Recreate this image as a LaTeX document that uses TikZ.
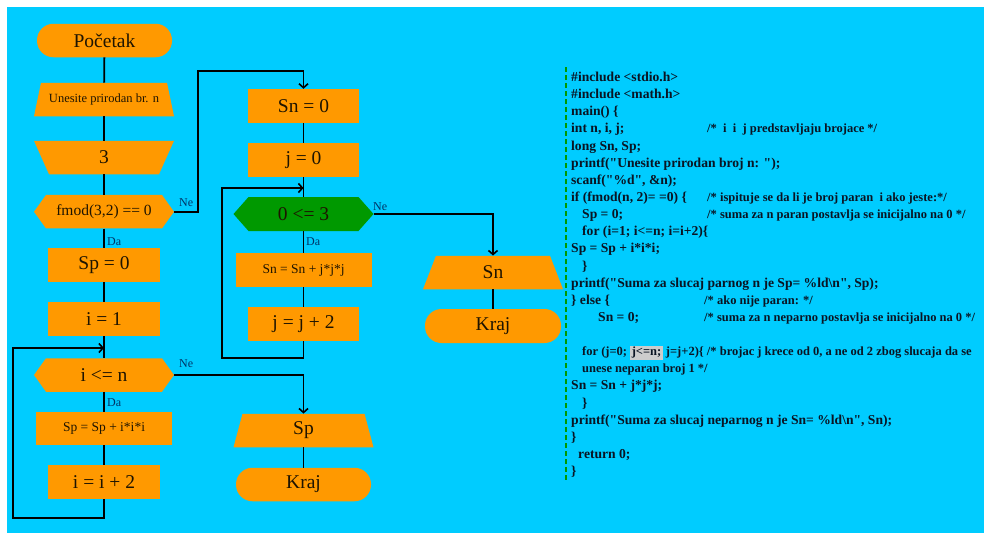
\documentclass[tikz,border=0pt]{standalone}
\usepackage{fontspec}
\setmainfont{Liberation Serif}
% listing font without TeX ligature mapping, so " stays a straight quote
\newfontfamily\codefont{Liberation Serif}
\usetikzlibrary{arrows.meta}
\definecolor{sky}{RGB}{0,204,255}
\definecolor{org}{RGB}{255,153,0}
\definecolor{grn}{RGB}{0,153,0}
\definecolor{ink}{RGB}{30,20,0}
\definecolor{lbl}{RGB}{0,51,102}
\definecolor{codeink}{RGB}{10,20,35}
\definecolor{hl}{RGB}{205,205,205}
\begin{document}
\begin{tikzpicture}[x=1pt,y=-1pt,
  box/.style={inner sep=0pt, minimum height=33.5pt, text=ink, font=\fontsize{19.5}{22}\selectfont},
  proc/.style={box, fill=org},
  term/.style={box, fill=org, rounded corners=16.5pt},
  hexa/.style 2 args={box, path picture={
    \fill[#1] (path picture bounding box.west)
      -- ([xshift=#2pt]path picture bounding box.north west)
      -- ([xshift=-#2pt]path picture bounding box.north east)
      -- (path picture bounding box.east)
      -- ([xshift=-#2pt]path picture bounding box.south east)
      -- ([xshift=#2pt]path picture bounding box.south west) -- cycle;}},
  trap/.style 2 args={box, path picture={
    \fill[org] ([xshift=#1pt]path picture bounding box.north west)
      -- ([xshift=-#1pt]path picture bounding box.north east)
      -- ([xshift=-#2pt]path picture bounding box.south east)
      -- ([xshift=#2pt]path picture bounding box.south west) -- cycle;}},
  link/.style={line width=1.8pt, black},
  arr/.style={link, -{Straight Barb[length=4pt,width=9pt,line width=1.6pt]}},
  tag/.style={text=lbl, inner sep=0pt, anchor=west, font=\fontsize{12}{14}\selectfont},
  code/.style={text=codeink, inner sep=0pt, anchor=base west, font=\codefont\fontsize{13.6}{16}\selectfont\bfseries},
  note/.style={code, font=\codefont\fontsize{12.5}{15}\selectfont\bfseries}
]
% canvas
\fill[white] (0,0) rectangle (984,533);
\fill[sky] (7,7) rectangle (984,533);
\useasboundingbox (0,0) rectangle (984,533);

% left column: even branch
\node[term, minimum width=135pt] (start) at (104.5,40.5) {Početak};
\node[trap={7}{0}, minimum width=140pt, font=\fontsize{12.5}{14}\selectfont] (in1) at (104,99.5) {Unesite prirodan br. n};
\node[trap={0}{15}, minimum width=140pt] (in3) at (104,157.5) {3};
\node[hexa={org}{12}, minimum width=140pt, font=\fontsize{15.5}{18}\selectfont] (if1) at (104,211.7) {fmod(3,2) == 0};
\node[proc, minimum width=112pt, minimum height=34pt] (sp0) at (104,265) {Sp = 0};
\node[proc, minimum width=112pt, minimum height=34pt] (i1) at (104,319) {i = 1};
\node[hexa={org}{12}, minimum width=140pt] (if2) at (104,375) {i <= n};
\node[proc, minimum width=136pt, font=\fontsize{13.5}{16}\selectfont] (spadd) at (104,428.5) {Sp = Sp + i*i*i};
\node[proc, minimum width=112pt, minimum height=34pt] (i2) at (104,482) {i = i + 2};

% middle column: odd branch and even output
\node[proc, minimum width=111pt, minimum height=34pt] (sn0) at (303.5,106) {Sn = 0};
\node[proc, minimum width=111pt, minimum height=34pt] (j0) at (303.5,160) {j = 0};
\node[hexa={grn}{15}, minimum width=140pt, minimum height=34pt] (if3) at (303.5,214) {0 <= 3};
\node[proc, minimum width=136pt, minimum height=34pt, font=\fontsize{13.5}{16}\selectfont] (snadd) at (303.5,270) {Sn = Sn + j*j*j};
\node[proc, minimum width=111pt, minimum height=34pt] (j2) at (303.5,324) {j = j + 2};
\node[trap={9}{0}, minimum width=140pt] (spout) at (303.5,430.5) {Sp};
\node[term, minimum width=135pt] (end1) at (303.5,484.5) {Kraj};

% right column: odd output
\node[trap={13}{0}, minimum width=140pt] (snout) at (493,272.5) {Sn};
\node[term, minimum width=136pt, minimum height=34pt] (end2) at (493,326) {Kraj};

% loop entry points and bends
\coordinate (iin) at (104,348);
\coordinate (jin) at (303.5,188);
\coordinate (ne1) at (198,71);

% straight flow
\draw[link] (start) -- (in1);
\draw[link] (in1) -- (in3);
\draw[link] (in3) -- (if1);
\draw[link] (if1) -- (sp0);
\draw[link] (sp0) -- (i1);
\draw[link] (i1) -- (if2);
\draw[link] (if2) -- (spadd);
\draw[link] (spadd) -- (i2);
\draw[link] (sn0) -- (j0);
\draw[link] (j0) -- (if3);
\draw[link] (if3) -- (snadd);
\draw[link] (snadd) -- (j2);
\draw[link] (spout) -- (end1);
\draw[link] (snout) -- (end2);

% branches
\draw[arr] (if1.east) -| (ne1) -| (sn0.north);
\draw[arr] (if2.east) -| (spout.north);
\draw[arr] (if3.east) -| (snout.north);

% loops
\draw[arr] (i2.south) -- (104,518) -- (13,518) -- (13,348) -- (iin);
\draw[arr] (j2.south) -- (303.5,358) -- (222,358) -- (222,188) -- (jin);

% branch labels
\node[tag] (da1) at (107,242) {Da};
\node[tag] (ne1t) at (179,203) {Ne};
\node[tag] (da2) at (107,403) {Da};
\node[tag] (ne2t) at (179,364) {Ne};
\node[tag] (da3) at (306,242) {Da};
\node[tag] (ne3t) at (373,207) {Ne};

% separator
\draw[grn, line width=2.5pt, dash pattern=on 5pt off 3pt] (566,67) -- (566,482);

% source listing
\def\ly#1{\fpeval{81.6+17.13*#1}}
\node[code] (c0) at (571,\ly{0}) {\#include <stdio.h>};
\node[code] (c1) at (571,\ly{1}) {\#include <math.h>};
\node[code] (c2) at (571,\ly{2}) {main() \{};
\node[code] (c3) at (571,\ly{3}) {int n, i, j;};
\node[note] (m3) at (707,\ly{3}) {/*\ \ i\ \ i\ \ j predstavljaju brojace */};
\node[code] (c4) at (571,\ly{4}) {long Sn, Sp;};
\node[code] (c5) at (571,\ly{5}) {printf("Unesite prirodan broj n: ");};
\node[code] (c6) at (571,\ly{6}) {scanf("\%d", \&n);};
\node[code] (c7) at (571,\ly{7}) {if (fmod(n, 2)= =0) \{};
\node[note] (m7) at (707,\ly{7}) {/* ispituje se da li je broj paran\ \ i ako jeste:*/};
\node[code] (c8) at (582,\ly{8}) {Sp = 0;};
\node[note] (m8) at (707,\ly{8}) {/* suma za n paran postavlja se inicijalno na 0 */};
\node[code] (c9) at (582,\ly{9}) {for (i=1; i<=n; i=i+2)\{};
\node[code] (c10) at (571,\ly{10}) {Sp = Sp + i*i*i;};
\node[code] (c11) at (582,\ly{11}) {\}};
\node[code] (c12) at (571,\ly{12}) {printf("Suma za slucaj parnog n je Sp= \%ld\textbackslash n", Sp);};
\node[code] (c13) at (571,\ly{13}) {\} else \{};
\node[note] (m13) at (704,\ly{13}) {/* ako nije paran: */};
\node[code] (c14) at (598,\ly{14}) {Sn = 0;};
\node[note] (m14) at (704,\ly{14}) {/* suma za n neparno postavlja se inicijalno na 0 */};
\node[note] (c16) at (582,\ly{16}) {for (j=0; {\fboxsep=1.5pt\colorbox{hl}{j<=n;}} j=j+2)\{ /* brojac j krece od 0, a ne od 2 zbog slucaja da se};
\node[note] (c17) at (582,\ly{17}) {unese neparan broj 1 */};
\node[code] (c18) at (571,\ly{18}) {Sn = Sn + j*j*j;};
\node[code] (c19) at (582,\ly{19}) {\}};
\node[code] (c20) at (571,\ly{20}) {printf("Suma za slucaj neparnog n je Sn= \%ld\textbackslash n", Sn);};
\node[code] (c21) at (571,\ly{21}) {\}};
\node[code] (c22) at (578,\ly{22}) {return 0;};
\node[code] (c23) at (571,\ly{23}) {\}};
\end{tikzpicture}
\end{document}
